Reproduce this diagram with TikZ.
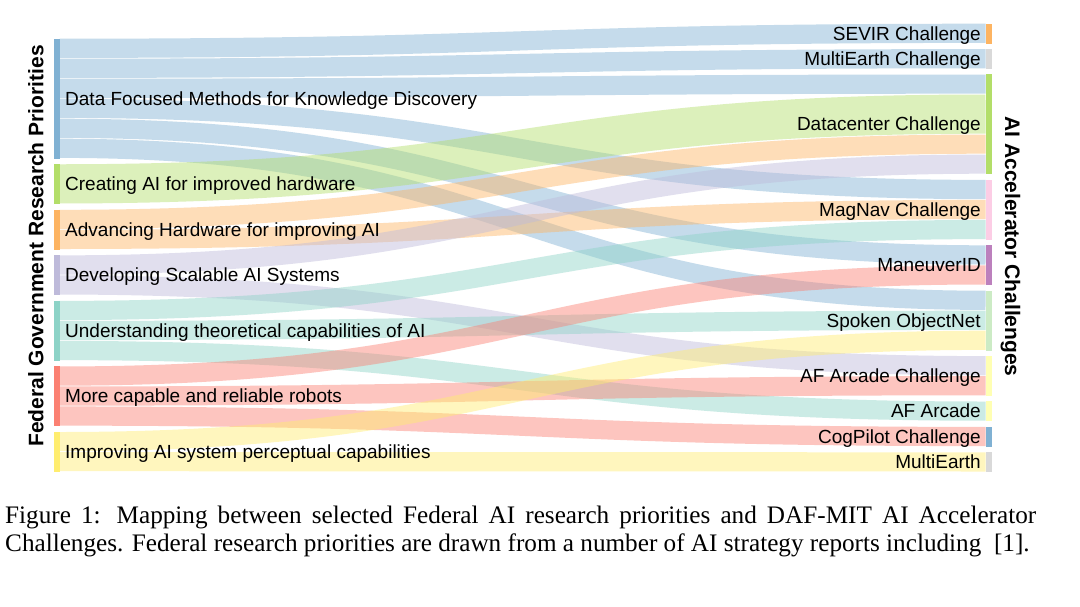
\documentclass[tikz,border=0pt]{standalone}
\usepackage{fontspec}
\setmainfont{Liberation Sans}
\newfontfamily\capfont{Liberation Serif}
\definecolor{cData}{HTML}{80B1D3}
\definecolor{cCreat}{HTML}{B3DE69}
\definecolor{cAdv}{HTML}{FDB462}
\definecolor{cDev}{HTML}{BEBADA}
\definecolor{cUnd}{HTML}{8DD3C7}
\definecolor{cRob}{HTML}{FB8072}
\definecolor{cImp}{HTML}{FFED6F}
\definecolor{cSev}{HTML}{FDB462}
\definecolor{cMulti}{HTML}{D9D9D9}
\definecolor{cDc}{HTML}{B3DE69}
\definecolor{cMag}{HTML}{FCCDE5}
\definecolor{cMan}{HTML}{BC80BD}
\definecolor{cSpo}{HTML}{CCEBC5}
\definecolor{cAF}{HTML}{FFFFB3}
\definecolor{cCog}{HTML}{80B1D3}
\begin{document}
\begin{tikzpicture}[x=1pt,y=-1pt,
  bar/.style={draw=none, inner sep=0pt, minimum width=6pt, anchor=north west},
  lk/.style={line width=19.2pt, draw opacity=0.45},
  lkk/.style={line width=39.2pt, draw opacity=0.45},
  lab/.style={inner sep=0pt, font=\fontsize{19}{22}\selectfont},
  llab/.style={lab, anchor=base west},
  rlab/.style={lab, anchor=base east},
  ttl/.style={inner sep=0pt, anchor=base, font=\fontsize{21}{24}\selectfont\bfseries},
  captext/.style={inner sep=0pt, anchor=base west, font=\capfont\fontsize{25.2}{30}\selectfont},
]
\useasboundingbox (0,0) rectangle (1080,606);
\fill[white] (0,0) rectangle (1080,606);

% left bars
\node[bar, fill=cData,  minimum height=120pt] (data) at (53.3,38.3) {};
\node[bar, fill=cCreat, minimum height=40pt]  (creat) at (53.3,163.85) {};
\node[bar, fill=cAdv,   minimum height=40pt]  (adv) at (53.3,209.4) {};
\node[bar, fill=cDev,   minimum height=40pt]  (dev) at (53.3,254.95) {};
\node[bar, fill=cUnd,   minimum height=60pt]  (und) at (53.3,300.5) {};
\node[bar, fill=cRob,   minimum height=60pt]  (rob) at (53.3,366.05) {};
\node[bar, fill=cImp,   minimum height=40pt]  (imp) at (53.3,431.6) {};

% right bars
\node[bar, fill=cSev,   minimum height=20pt]  (sev) at (985.5,23.3) {};
\node[bar, fill=cMulti, minimum height=20pt]  (mec) at (985.5,48.7) {};
\node[bar, fill=cDc,    minimum height=100pt] (dc) at (985.5,74.1) {};
\node[bar, fill=cMag,   minimum height=60pt]  (mag) at (985.5,179.5) {};
\node[bar, fill=cMan,   minimum height=40pt]  (man) at (985.5,244.9) {};
\node[bar, fill=cSpo,   minimum height=60pt]  (spo) at (985.5,290.3) {};
\node[bar, fill=cAF,    minimum height=40pt]  (afc) at (985.5,355.7) {};
\node[bar, fill=cAF,    minimum height=20pt]  (afa) at (985.5,401.1) {};
\node[bar, fill=cCog,   minimum height=20pt]  (cog) at (985.5,426.5) {};
\node[bar, fill=cMulti, minimum height=20pt]  (mea) at (985.5,451.9) {};

% links
\draw[lk, draw=cData] ([yshift=-10pt]data.north east) .. controls +(463,0) and +(-463,0) .. ([yshift=-10pt]sev.north west);
\draw[lk, draw=cData] ([yshift=-30pt]data.north east) .. controls +(463,0) and +(-463,0) .. ([yshift=-10pt]mec.north west);
\draw[lk, draw=cData] ([yshift=-50pt]data.north east) .. controls +(463,0) and +(-463,0) .. ([yshift=-10pt]dc.north west);
\draw[lk, draw=cData] ([yshift=-70pt]data.north east) .. controls +(463,0) and +(-463,0) .. ([yshift=-10pt]mag.north west);
\draw[lk, draw=cData] ([yshift=-90pt]data.north east) .. controls +(463,0) and +(-463,0) .. ([yshift=-10pt]man.north west);
\draw[lk, draw=cData] ([yshift=-110pt]data.north east) .. controls +(463,0) and +(-463,0) .. ([yshift=-10pt]spo.north west);
\draw[lkk, draw=cCreat] ([yshift=-20pt]creat.north east) .. controls +(463,0) and +(-463,0) .. ([yshift=-40pt]dc.north west);
\draw[lk, draw=cAdv] ([yshift=-10pt]adv.north east) .. controls +(463,0) and +(-463,0) .. ([yshift=-70pt]dc.north west);
\draw[lk, draw=cAdv] ([yshift=-30pt]adv.north east) .. controls +(463,0) and +(-463,0) .. ([yshift=-30pt]mag.north west);
\draw[lk, draw=cDev] ([yshift=-10pt]dev.north east) .. controls +(463,0) and +(-463,0) .. ([yshift=-90pt]dc.north west);
\draw[lk, draw=cDev] ([yshift=-30pt]dev.north east) .. controls +(463,0) and +(-463,0) .. ([yshift=-10pt]afc.north west);
\draw[lk, draw=cUnd] ([yshift=-10pt]und.north east) .. controls +(463,0) and +(-463,0) .. ([yshift=-50pt]mag.north west);
\draw[lk, draw=cUnd] ([yshift=-30pt]und.north east) .. controls +(463,0) and +(-463,0) .. ([yshift=-30pt]spo.north west);
\draw[lk, draw=cUnd] ([yshift=-50pt]und.north east) .. controls +(463,0) and +(-463,0) .. ([yshift=-10pt]afa.north west);
\draw[lk, draw=cRob] ([yshift=-10pt]rob.north east) .. controls +(463,0) and +(-463,0) .. ([yshift=-30pt]man.north west);
\draw[lk, draw=cRob] ([yshift=-30pt]rob.north east) .. controls +(463,0) and +(-463,0) .. ([yshift=-30pt]afc.north west);
\draw[lk, draw=cRob] ([yshift=-50pt]rob.north east) .. controls +(463,0) and +(-463,0) .. ([yshift=-10pt]cog.north west);
\draw[lk, draw=cImp] ([yshift=-10pt]imp.north east) .. controls +(463,0) and +(-463,0) .. ([yshift=-50pt]spo.north west);
\draw[lk, draw=cImp] ([yshift=-30pt]imp.north east) .. controls +(463,0) and +(-463,0) .. ([yshift=-10pt]mea.north west);

% left labels
\node[llab] (dataL)  at (65,105.1) {Data Focused Methods for Knowledge Discovery};
\node[llab] (creatL) at (65,190.65) {Creating AI for improved hardware};
\node[llab] (advL)   at (65,236.2) {Advancing Hardware for improving AI};
\node[llab] (devL)   at (65,281.75) {Developing Scalable AI Systems};
\node[llab] (undL)   at (65,337.3) {Understanding theoretical capabilities of AI};
\node[llab] (robL)   at (65,402.85) {More capable and reliable robots};
\node[llab] (impL)   at (65,458.4) {Improving AI system perceptual capabilities};

% right labels
\node[rlab] (sevL) at (981,40.1) {SEVIR Challenge};
\node[rlab] (mecL) at (981,65.5) {MultiEarth Challenge};
\node[rlab] (dcL)  at (981,130.9) {Datacenter Challenge};
\node[rlab] (magL) at (981,216.3) {MagNav Challenge};
\node[rlab] (manL) at (981,271.7) {ManeuverID};
\node[rlab] (spoL) at (981,327.1) {Spoken ObjectNet};
\node[rlab] (afcL) at (981,382.5) {AF Arcade Challenge};
\node[rlab] (afaL) at (981,417.9) {AF Arcade};
\node[rlab] (cogL) at (981,443.3) {CogPilot Challenge};
\node[rlab] (meaL) at (981,468.7) {MultiEarth};

% axis titles
\node[ttl, rotate=90] (ltitle) at (43.3,246) {Federal Government Research Priorities};
\node[ttl, rotate=-90] (rtitle) at (1005,246.5) {AI Accelerator Challenges};

% caption
\node[captext] (cap1) at (5,523.3) {\makebox[1031pt][s]{Figure 1: Mapping between selected Federal AI research priorities and DAF-MIT AI Accelerator}};
\node[captext] (cap2) at (5,551.7) {Challenges. Federal research priorities are drawn from a number of AI strategy reports including\ \ [1].};
\end{tikzpicture}
\end{document}
